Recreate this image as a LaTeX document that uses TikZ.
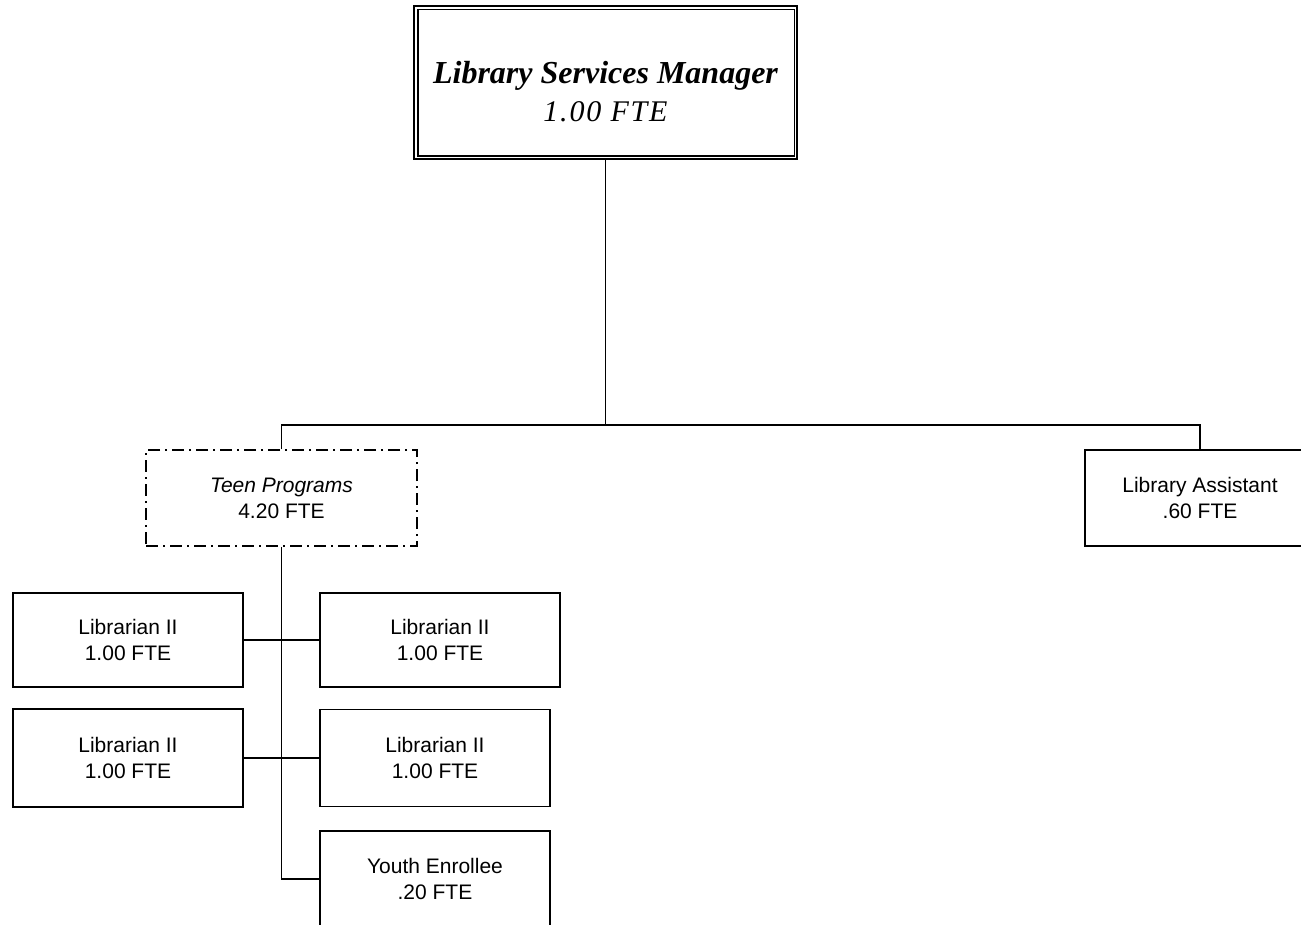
\documentclass[tikz,border=0pt]{standalone}
\usepackage{fontspec}
\setmainfont{Liberation Sans}
\newfontfamily\mgrfont{Liberation Serif}
\usetikzlibrary{calc}
\begin{document}
\begin{tikzpicture}[x=1pt,y=-1pt,
  box/.style={draw, line width=1.7pt, minimum width=230pt, minimum height=95pt,
    align=center, inner sep=0pt, font=\fontsize{21}{26}\selectfont},
  teenbox/.style={box, line width=1.5pt, dash pattern=on 12pt off 5pt on 2pt off 5pt},
  mgrbox/.style={draw, line width=2.6pt, minimum width=383pt, minimum height=153pt,
    inner sep=0pt, align=center, font=\mgrfont\fontsize{32}{41}\selectfont},
  link/.style={line width=1.6pt}
]
\useasboundingbox (0,0) rectangle (1301,925);
\fill[white] (0,0) rectangle (1301,925);
\begin{scope}
\clip (0,0) rectangle (1301,925);
\node[mgrbox] (mgr) at (605.5,82.5)
  {\rule{0pt}{40pt}{\bfseries\itshape Library Services Manager}\\[-3pt]
   {\itshape\fontsize{30}{41}\selectfont\addfontfeature{LetterSpace=6}1.00 FTE}};
\draw[line width=1.6pt] ($(mgr.north west)+(5,5)$) rectangle ($(mgr.south east)+(-4,-4)$);

\node[teenbox, minimum width=271pt, minimum height=96pt] (teen) at (281.5,498)
  {\itshape Teen Programs\\4.20 FTE};
\node[box, minimum height=96pt] (la) at (1200,498) {Library Assistant\\.60 FTE};

\node[box, minimum height=94pt] (l1) at (128,640) {Librarian II\\1.00 FTE};
\node[box, minimum height=98pt] (l2) at (128,758) {Librarian II\\1.00 FTE};
\node[box, minimum width=240pt, minimum height=94pt] (r1) at (440,640) {Librarian II\\1.00 FTE};
\node[box, minimum height=97pt] (r2) at (435,758) {Librarian II\\1.00 FTE};
\node[box, minimum height=96pt] (ye) at (435,879) {Youth Enrollee\\.20 FTE};

\coordinate (bus) at (606,425);
\draw[link] (mgr.south) -- (mgr.south |- bus);
\draw[link] (teen.north) |- (bus) -| (la.north);
\draw[link] (teen.south) |- (ye.west);
\draw[link] (l1.east) -- (r1.west);
\draw[link] (l2.east) -- (r2.west);
\end{scope}
\end{tikzpicture}
\end{document}
